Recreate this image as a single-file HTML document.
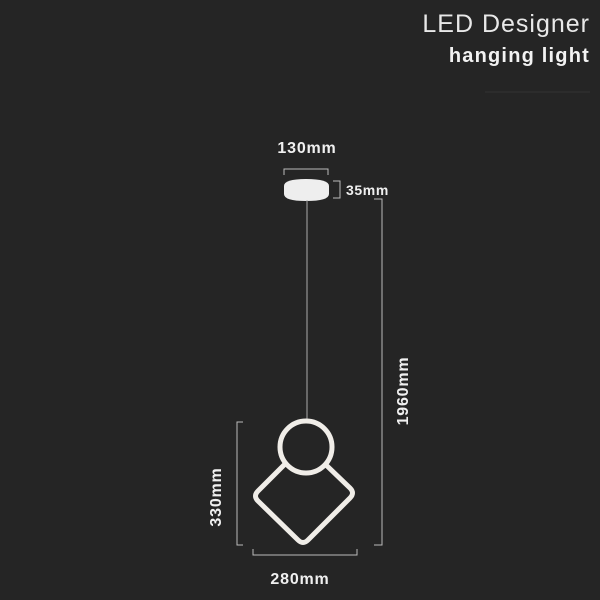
<!DOCTYPE html>
<html><head><meta charset="utf-8"><style>
html,body{margin:0;padding:0;background:#252525;}
svg{display:block}
</style></head><body>
<svg width="600" height="600" viewBox="0 0 600 600" xmlns="http://www.w3.org/2000/svg">
<rect width="600" height="600" fill="#252525"/>
<text x="590" y="32" text-anchor="end" font-family="Liberation Sans, sans-serif" font-size="25" letter-spacing="1" fill="#e8e8e8">LED Designer</text>
<text x="590" y="62" text-anchor="end" font-family="Liberation Sans, sans-serif" font-size="20" font-weight="bold" letter-spacing="1.2" fill="#f2f2f2">hanging light</text>
<line x1="485" y1="92" x2="590" y2="92" stroke="#333" stroke-width="1"/>
<!-- canopy -->
<text x="307" y="153" text-anchor="middle" font-family="Liberation Sans, sans-serif" font-size="16" font-weight="bold" letter-spacing="0.8" fill="#f0f0f0">130mm</text>
<path d="M284 175 V169 H328 V175" fill="none" stroke="#bbb" stroke-width="1"/>
<path d="M284 186 Q284 179 306 179 Q329 179 329 186 V194 Q329 201 306 201 Q284 201 284 194 Z" fill="#eeeeee"/>
<path d="M333 181 H340 V198 H333" fill="none" stroke="#bbb" stroke-width="1"/>
<text x="346" y="195" font-family="Liberation Sans, sans-serif" font-size="14" font-weight="bold" letter-spacing="0.6" fill="#f0f0f0">35mm</text>
<line x1="307" y1="200" x2="307" y2="421" stroke="#aaa" stroke-width="1"/>
<!-- fixture -->
<path d="M285 464 L258 491 Q253 496 258 501 L298 540 Q303 545 308 540 L350 498 Q355 493 350 488 L325 464" fill="none" stroke="#f0ede8" stroke-width="5" stroke-linejoin="round"/>
<circle cx="306" cy="447" r="26" fill="none" stroke="#f0ede8" stroke-width="5"/>
<!-- dims -->
<path d="M243 422 H237 V545 H243" fill="none" stroke="#bbb" stroke-width="1"/>
<text transform="translate(221,497) rotate(-90)" text-anchor="middle" font-family="Liberation Sans, sans-serif" font-size="16" font-weight="bold" letter-spacing="0.8" fill="#f0f0f0">330mm</text>
<path d="M253 549 V555 H357 V549" fill="none" stroke="#bbb" stroke-width="1"/>
<text x="300" y="584" text-anchor="middle" font-family="Liberation Sans, sans-serif" font-size="16" font-weight="bold" letter-spacing="0.8" fill="#f0f0f0">280mm</text>
<path d="M374 199 H382 V545 H374" fill="none" stroke="#bbb" stroke-width="1"/>
<text transform="translate(408,391) rotate(-90)" text-anchor="middle" font-family="Liberation Sans, sans-serif" font-size="16" font-weight="bold" letter-spacing="0.8" fill="#f0f0f0">1960mm</text>
</svg>
</body></html>
